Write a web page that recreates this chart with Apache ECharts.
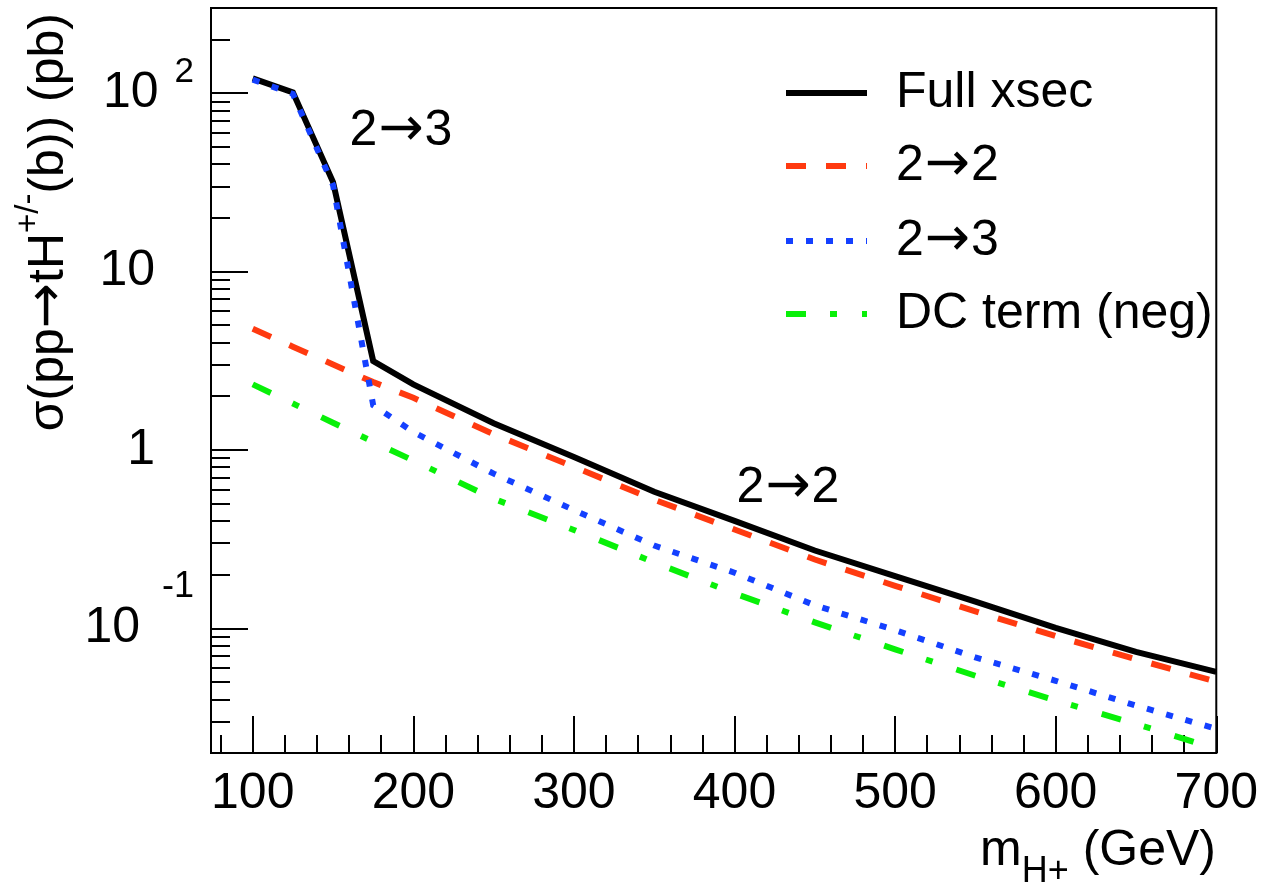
<!DOCTYPE html>
<html><head><meta charset="utf-8">
<script src="https://cdn.jsdelivr.net/npm/echarts@6/dist/echarts.min.js"></script>
<style>html,body{margin:0;padding:0;background:#fff}#c{width:1261px;height:882px}</style>
</head><body><div id="c"></div>
<script>
// ---- data ----
const massPoints = [100, 125, 150, 175, 200, 250, 300, 350, 400, 450, 500, 550, 600, 650, 700];
const fullXsec   = [121, 101, 31.7, 3.15, 2.33, 1.41, 0.912, 0.583, 0.400, 0.273, 0.196, 0.141, 0.1007, 0.0738, 0.057];
const xsec2to2   = [4.77, 3.79, 3.01, 2.40, 1.96, 1.225, 0.803, 0.526, 0.358, 0.243, 0.173, 0.1245, 0.0904, 0.0671, 0.0502];
const xsec2to3   = [119, 99, 30.5, 1.78, 1.26, 0.736, 0.46, 0.291, 0.205, 0.1346, 0.0977, 0.0687, 0.0508, 0.0369, 0.0273];
const dcTermNeg  = [2.33, 1.82, 1.42, 1.11, 0.872, 0.533, 0.356, 0.234, 0.157, 0.108, 0.0762, 0.0542, 0.0394, 0.0291, 0.0211];
const seriesNames = ['Full xsec', '2\u21922', '2\u21923', 'DC term (neg)'];
const xMajorTicks = [100, 200, 300, 400, 500, 600, 700];
const xMinorTicks = [80, 120, 140, 160, 180, 220, 240, 260, 280, 320, 340, 360, 380, 420, 440, 460, 480,
                     520, 540, 560, 580, 620, 640, 660, 680];
const yMajorTicks = [0.1, 1, 10, 100];
const yMinorTicks = [0.03, 0.04, 0.05, 0.06, 0.07, 0.08, 0.09, 0.2, 0.3, 0.4, 0.5, 0.6, 0.7, 0.8, 0.9,
                     2, 3, 4, 5, 6, 7, 8, 9, 20, 30, 40, 50, 60, 70, 80, 90, 200];
const annotations = ['2\u21923', '2\u21922'];

// ---- chart ----
const FONT = '"Liberation Sans", Arial, Helvetica, sans-serif';
const AFONT = '"DejaVu Sans", sans-serif';
const FS = 50;
const chart = echarts.init(document.getElementById('c'), null, {renderer: 'canvas'});
const pairs = ys => massPoints.map((x, i) => [x, ys[i]]);
const colors = ['#000000', '#ff3a10', '#1440ff', '#08f008'];
const dashes = ['solid', [20, 20], [7, 13], [20, 24, 7, 25]];
// wrap arrows in their own rich token (long thin arrow like the original)
const arrowRich = s => s.split('\u2192').map(p => p ? '{t|' + p + '}' : '').join('{ar|\u2192}');
const textRich = (fill) => ({
  t:  {fontSize: FS, fontFamily: FONT, color: fill, fill: fill, verticalAlign: 'middle'},
  ar: {fontSize: 54, fontFamily: AFONT, color: fill, fill: fill, verticalAlign: 'middle', padding: [0, 1, 0, 1]}
});

const yLabel = v => {
  const e = Math.round(Math.log10(v));
  if (e === 2) return '{b|10}{s2|2}';
  if (e === -1) return '{b|10}{s1|-1}';
  if (e === 1) return '{bp|10}';
  return '{bp|1}';
};

const option = {
  animation: false,
  backgroundColor: '#fff',
  textStyle: {fontFamily: FONT},
  grid: {left: 211, right: 44, top: 8, bottom: 129, show: true, borderColor: '#000', borderWidth: 2, containLabel: false},
  xAxis: [{
    type: 'value', min: 74, max: 700, position: 'bottom',
    axisLine: {show: true, lineStyle: {color: '#000', width: 2}},
    axisTick: {show: true, inside: true, length: 37, lineStyle: {color: '#000', width: 2}, customValues: xMajorTicks},
    axisLabel: {show: true, customValues: xMajorTicks, color: '#000', fontSize: FS, fontFamily: FONT, margin: 16},
    splitLine: {show: false}
  }, {
    type: 'value', min: 74, max: 700, position: 'bottom', offset: 0,
    axisLine: {show: false},
    axisTick: {show: true, inside: true, length: 18, lineStyle: {color: '#000', width: 2}, customValues: xMinorTicks},
    axisLabel: {show: false},
    splitLine: {show: false}
  }],
  yAxis: [{
    type: 'log', logBase: 10, min: 0.02, max: 300, position: 'left',
    axisLine: {show: true, lineStyle: {color: '#000', width: 2}},
    axisTick: {show: true, inside: true, length: 37, lineStyle: {color: '#000', width: 2}, customValues: yMajorTicks},
    axisLabel: {
      show: true, customValues: yMajorTicks, margin: 17, formatter: yLabel,
      rich: {
        b:  {fontSize: FS, fontFamily: FONT, color: '#000', verticalAlign: 'middle'},
        bp: {fontSize: FS, fontFamily: FONT, color: '#000', verticalAlign: 'middle', padding: [0, 39, 0, 0]},
        s2: {fontSize: 35, fontFamily: FONT, color: '#000', verticalAlign: 'middle', padding: [0, 0, 41, 16]},
        s1: {fontSize: 36, fontFamily: FONT, color: '#000', verticalAlign: 'middle', padding: [0, 0, 82, 22]}
      }
    },
    splitLine: {show: false}
  }, {
    type: 'log', logBase: 10, min: 0.02, max: 300, position: 'left', offset: 0,
    axisLine: {show: false},
    axisTick: {show: true, inside: true, length: 19, lineStyle: {color: '#000', width: 2}, customValues: yMinorTicks},
    axisLabel: {show: false},
    splitLine: {show: false}
  }],
  legend: {
    orient: 'vertical', left: 783, top: 68, padding: 0,
    itemWidth: 81, itemHeight: 20, itemGap: 21, selectedMode: false,
    formatter: name => arrowRich(name),
    textStyle: {fontSize: FS, fontFamily: FONT, color: '#000', lineHeight: 50, padding: [0, 0, 0, 24], rich: textRich('#000')},
    data: seriesNames.map((n, i) => ({
      name: n,
      itemStyle: {opacity: 0, borderWidth: 0},
      lineStyle: {width: 6, color: colors[i], type: dashes[i], cap: 'butt', opacity: 1}
    }))
  },
  series: [fullXsec, xsec2to2, xsec2to3, dcTermNeg].map((ys, i) => ({
    name: seriesNames[i], type: 'line', data: pairs(ys), xAxisIndex: 0, yAxisIndex: 0,
    symbol: 'none', smooth: false, clip: true,
    lineStyle: {color: colors[i], width: 6, type: dashes[i], cap: 'butt', join: 'miter'},
    itemStyle: {color: colors[i]}, z: 2 + i
  })),
  graphic: [
    {type: 'text', x: 49, y: 13, rotation: Math.PI / 2, silent: true,
     style: {text: '{a|\u03c3(pp}{ar|\u2192}{a|tH}{s|+/-}{a|(b)) (pb)}', align: 'right', verticalAlign: 'middle',
             textAlign: 'right', textVerticalAlign: 'middle', fill: '#000', fontSize: FS, fontFamily: FONT,
             rich: {a: {fontSize: FS, fontFamily: FONT, fill: '#000', verticalAlign: 'middle'},
                    ar: {fontSize: 54, fontFamily: AFONT, fill: '#000', verticalAlign: 'middle'},
                    s: {fontSize: 33, fontFamily: FONT, fill: '#000', verticalAlign: 'middle', padding: [0, 0, 40, 0]}}}},
    {type: 'text', x: 1216, y: 851, silent: true,
     style: {text: '{m|m}{h|H+}{m| (GeV)}', align: 'right', verticalAlign: 'middle',
             textAlign: 'right', textVerticalAlign: 'middle', fill: '#000', fontSize: FS, fontFamily: FONT,
             rich: {m: {fontSize: FS, fontFamily: FONT, fill: '#000', verticalAlign: 'middle'},
                    h: {fontSize: 36, fontFamily: FONT, fill: '#000', verticalAlign: 'middle', padding: [42, 0, 0, 0]}}}},
    {type: 'text', x: 401, y: 131, silent: true,
     style: {text: arrowRich(annotations[0]), align: 'center', verticalAlign: 'middle', textAlign: 'center', textVerticalAlign: 'middle',
             fill: '#000', fontSize: FS, fontFamily: FONT, rich: textRich('#000')}},
    {type: 'text', x: 788, y: 488, silent: true,
     style: {text: arrowRich(annotations[1]), align: 'center', verticalAlign: 'middle', textAlign: 'center', textVerticalAlign: 'middle',
             fill: '#000', fontSize: FS, fontFamily: FONT, rich: textRich('#000')}}
  ]
};
chart.setOption(option);
</script>
</body></html>
